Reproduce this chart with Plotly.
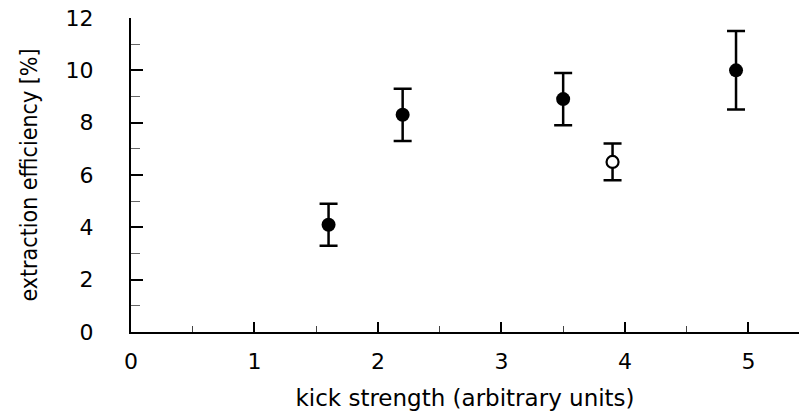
import plotly.graph_objects as go

kick_filled = [1.6, 2.2, 3.5, 4.9]
eff_filled = [4.1, 8.3, 8.9, 10.0]
err_filled = [0.8, 1.0, 1.0, 1.5]

kick_open = [3.9]
eff_open = [6.5]
err_open = [0.7]

x_ticks = [0, 1, 2, 3, 4, 5]
y_ticks = [0, 2, 4, 6, 8, 10, 12]

fig = go.Figure()
fig.add_trace(go.Scatter(
    x=kick_filled, y=eff_filled, mode="markers",
    error_y=dict(type="data", array=err_filled, color="black", thickness=2.5, width=9),
    marker=dict(symbol="circle", size=14, color="black"),
    showlegend=False))
fig.add_trace(go.Scatter(
    x=kick_open, y=eff_open, mode="markers",
    error_y=dict(type="data", array=err_open, color="black", thickness=2.5, width=9),
    marker=dict(symbol="circle", size=12, color="white", line=dict(color="black", width=2.2)),
    showlegend=False))

font_main = "DejaVu Sans, sans-serif"
fig.update_layout(
    width=799, height=414,
    margin=dict(l=131, r=0, t=18, b=82),
    paper_bgcolor="white", plot_bgcolor="white",
    font=dict(family=font_main, size=22, color="black"),
)
fig.update_xaxes(
    range=[0, 5.41], tickvals=x_ticks, ticks="inside", ticklen=10, tickwidth=1.5,
    tickcolor="black", showline=True, linecolor="black", linewidth=2,
    showgrid=False, zeroline=False, ticklabelstandoff=9, automargin=False,
    ticklabeloverflow="allow",
    minor=dict(dtick=0.5, ticks="inside", ticklen=6, tickcolor="#444", tickwidth=1.2),
    title=dict(text="kick strength (arbitrary units)", font=dict(size=23, family=font_main), standoff=16),
    tickfont=dict(size=22),
)
fig.update_yaxes(
    range=[0, 12], tickvals=y_ticks, ticks="inside", ticklen=12, tickwidth=1.5,
    tickcolor="black", showline=True, linecolor="black", linewidth=2,
    showgrid=False, zeroline=False, ticklabelstandoff=31, automargin=False,
    ticklabeloverflow="allow",
    minor=dict(dtick=1, ticks="inside", ticklen=9, tickcolor="#666", tickwidth=1.2),
    title=dict(text="extraction efficiency [%]",
               font=dict(size=23, family="DejaVu Sans Condensed, sans-serif"), standoff=22),
    tickfont=dict(size=22),
)

fig.write_html("out.html", config={"displayModeBar": False},
               post_script="document.body.style.margin='0';")
